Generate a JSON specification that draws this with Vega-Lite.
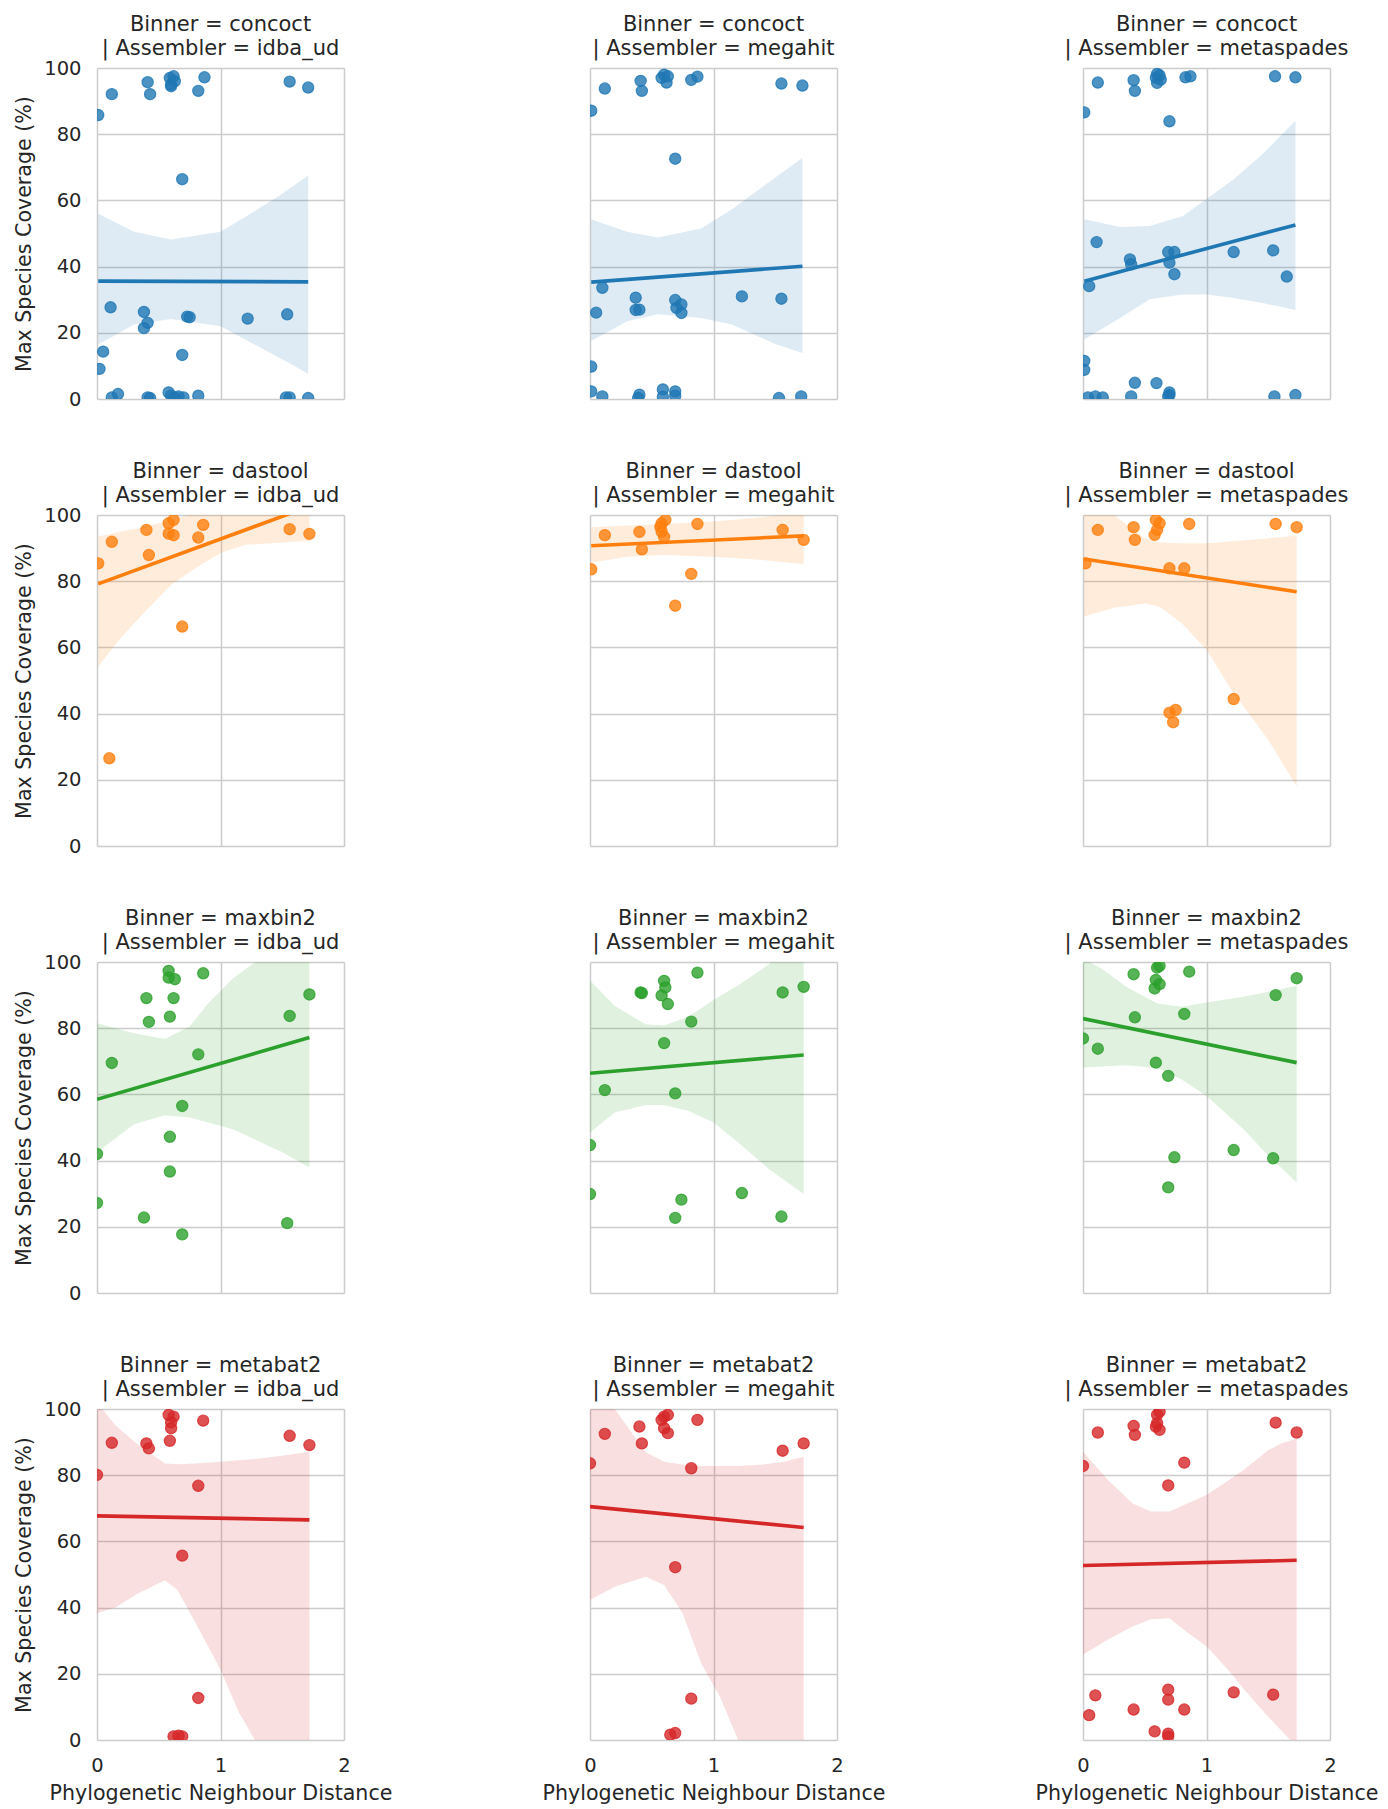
{
"$schema": "https://vega.github.io/schema/vega-lite/v6.json",
"padding": {"left": 14, "top": 14, "right": 5, "bottom": 0},
"data": {"values": [
{"p":"concoct|idba_ud","b":"concoct","k":"pt","x":0.01,"y":85.8},
{"p":"concoct|idba_ud","b":"concoct","k":"pt","x":0.12,"y":92.1},
{"p":"concoct|idba_ud","b":"concoct","k":"pt","x":0.41,"y":95.7},
{"p":"concoct|idba_ud","b":"concoct","k":"pt","x":0.43,"y":92.1},
{"p":"concoct|idba_ud","b":"concoct","k":"pt","x":0.59,"y":97},
{"p":"concoct|idba_ud","b":"concoct","k":"pt","x":0.6,"y":95},
{"p":"concoct|idba_ud","b":"concoct","k":"pt","x":0.62,"y":97.5},
{"p":"concoct|idba_ud","b":"concoct","k":"pt","x":0.63,"y":96},
{"p":"concoct|idba_ud","b":"concoct","k":"pt","x":0.6,"y":94.5},
{"p":"concoct|idba_ud","b":"concoct","k":"pt","x":0.82,"y":93.1},
{"p":"concoct|idba_ud","b":"concoct","k":"pt","x":0.87,"y":97.2},
{"p":"concoct|idba_ud","b":"concoct","k":"pt","x":1.56,"y":95.9},
{"p":"concoct|idba_ud","b":"concoct","k":"pt","x":1.71,"y":94.1},
{"p":"concoct|idba_ud","b":"concoct","k":"pt","x":0.69,"y":66.4},
{"p":"concoct|idba_ud","b":"concoct","k":"pt","x":0.11,"y":27.7},
{"p":"concoct|idba_ud","b":"concoct","k":"pt","x":0.38,"y":26.3},
{"p":"concoct|idba_ud","b":"concoct","k":"pt","x":0.41,"y":23},
{"p":"concoct|idba_ud","b":"concoct","k":"pt","x":0.38,"y":21.4},
{"p":"concoct|idba_ud","b":"concoct","k":"pt","x":0.73,"y":24.9},
{"p":"concoct|idba_ud","b":"concoct","k":"pt","x":0.75,"y":24.7},
{"p":"concoct|idba_ud","b":"concoct","k":"pt","x":1.22,"y":24.3},
{"p":"concoct|idba_ud","b":"concoct","k":"pt","x":1.54,"y":25.6},
{"p":"concoct|idba_ud","b":"concoct","k":"pt","x":0.05,"y":14.3},
{"p":"concoct|idba_ud","b":"concoct","k":"pt","x":0.02,"y":9.1},
{"p":"concoct|idba_ud","b":"concoct","k":"pt","x":0.69,"y":13.3},
{"p":"concoct|idba_ud","b":"concoct","k":"pt","x":0.12,"y":0.5},
{"p":"concoct|idba_ud","b":"concoct","k":"pt","x":0.17,"y":1.5},
{"p":"concoct|idba_ud","b":"concoct","k":"pt","x":0.41,"y":0.5},
{"p":"concoct|idba_ud","b":"concoct","k":"pt","x":0.43,"y":0.3},
{"p":"concoct|idba_ud","b":"concoct","k":"pt","x":0.58,"y":2},
{"p":"concoct|idba_ud","b":"concoct","k":"pt","x":0.6,"y":1},
{"p":"concoct|idba_ud","b":"concoct","k":"pt","x":0.63,"y":0.5},
{"p":"concoct|idba_ud","b":"concoct","k":"pt","x":0.66,"y":0.8},
{"p":"concoct|idba_ud","b":"concoct","k":"pt","x":0.7,"y":0.5},
{"p":"concoct|idba_ud","b":"concoct","k":"pt","x":0.82,"y":1},
{"p":"concoct|idba_ud","b":"concoct","k":"pt","x":1.53,"y":0.5},
{"p":"concoct|idba_ud","b":"concoct","k":"pt","x":1.56,"y":0.5},
{"p":"concoct|idba_ud","b":"concoct","k":"pt","x":1.71,"y":0.3},
{"p":"concoct|idba_ud","b":"concoct","k":"fit","x":0.01,"f":35.6},
{"p":"concoct|idba_ud","b":"concoct","k":"fit","x":1.71,"f":35.4},
{"p":"concoct|idba_ud","b":"concoct","k":"ci","x":0.01,"lo":16.5,"hi":56},
{"p":"concoct|idba_ud","b":"concoct","k":"ci","x":0.3,"lo":22.5,"hi":50.5},
{"p":"concoct|idba_ud","b":"concoct","k":"ci","x":0.6,"lo":24.2,"hi":48.2},
{"p":"concoct|idba_ud","b":"concoct","k":"ci","x":1.0,"lo":22,"hi":50.5},
{"p":"concoct|idba_ud","b":"concoct","k":"ci","x":1.2,"lo":18,"hi":55},
{"p":"concoct|idba_ud","b":"concoct","k":"ci","x":1.5,"lo":12,"hi":62},
{"p":"concoct|idba_ud","b":"concoct","k":"ci","x":1.71,"lo":7.6,"hi":67.5},

{"p":"concoct|megahit","b":"concoct","k":"pt","x":0.01,"y":87.1},
{"p":"concoct|megahit","b":"concoct","k":"pt","x":0.12,"y":93.8},
{"p":"concoct|megahit","b":"concoct","k":"pt","x":0.41,"y":96.1},
{"p":"concoct|megahit","b":"concoct","k":"pt","x":0.42,"y":93.1},
{"p":"concoct|megahit","b":"concoct","k":"pt","x":0.58,"y":97},
{"p":"concoct|megahit","b":"concoct","k":"pt","x":0.6,"y":98},
{"p":"concoct|megahit","b":"concoct","k":"pt","x":0.62,"y":95.6},
{"p":"concoct|megahit","b":"concoct","k":"pt","x":0.63,"y":97.5},
{"p":"concoct|megahit","b":"concoct","k":"pt","x":0.82,"y":96.4},
{"p":"concoct|megahit","b":"concoct","k":"pt","x":0.87,"y":97.4},
{"p":"concoct|megahit","b":"concoct","k":"pt","x":1.55,"y":95.3},
{"p":"concoct|megahit","b":"concoct","k":"pt","x":1.72,"y":94.7},
{"p":"concoct|megahit","b":"concoct","k":"pt","x":0.69,"y":72.6},
{"p":"concoct|megahit","b":"concoct","k":"pt","x":0.1,"y":33.6},
{"p":"concoct|megahit","b":"concoct","k":"pt","x":0.05,"y":26.1},
{"p":"concoct|megahit","b":"concoct","k":"pt","x":0.37,"y":30.6},
{"p":"concoct|megahit","b":"concoct","k":"pt","x":0.37,"y":26.9},
{"p":"concoct|megahit","b":"concoct","k":"pt","x":0.4,"y":27},
{"p":"concoct|megahit","b":"concoct","k":"pt","x":0.69,"y":29.9},
{"p":"concoct|megahit","b":"concoct","k":"pt","x":0.7,"y":27.5},
{"p":"concoct|megahit","b":"concoct","k":"pt","x":0.74,"y":28.6},
{"p":"concoct|megahit","b":"concoct","k":"pt","x":0.74,"y":26},
{"p":"concoct|megahit","b":"concoct","k":"pt","x":1.23,"y":31},
{"p":"concoct|megahit","b":"concoct","k":"pt","x":1.55,"y":30.3},
{"p":"concoct|megahit","b":"concoct","k":"pt","x":0.01,"y":9.8},
{"p":"concoct|megahit","b":"concoct","k":"pt","x":0.01,"y":2.3},
{"p":"concoct|megahit","b":"concoct","k":"pt","x":0.1,"y":0.8},
{"p":"concoct|megahit","b":"concoct","k":"pt","x":0.4,"y":1.3},
{"p":"concoct|megahit","b":"concoct","k":"pt","x":0.39,"y":0.3},
{"p":"concoct|megahit","b":"concoct","k":"pt","x":0.59,"y":2.9},
{"p":"concoct|megahit","b":"concoct","k":"pt","x":0.69,"y":2.3},
{"p":"concoct|megahit","b":"concoct","k":"pt","x":0.59,"y":0.7},
{"p":"concoct|megahit","b":"concoct","k":"pt","x":0.69,"y":1},
{"p":"concoct|megahit","b":"concoct","k":"pt","x":1.53,"y":0.3},
{"p":"concoct|megahit","b":"concoct","k":"pt","x":1.71,"y":0.8},
{"p":"concoct|megahit","b":"concoct","k":"fit","x":0.01,"f":35.3},
{"p":"concoct|megahit","b":"concoct","k":"fit","x":1.72,"f":40.1},
{"p":"concoct|megahit","b":"concoct","k":"ci","x":0.01,"lo":17.5,"hi":54.3},
{"p":"concoct|megahit","b":"concoct","k":"ci","x":0.3,"lo":23.5,"hi":50.5},
{"p":"concoct|megahit","b":"concoct","k":"ci","x":0.55,"lo":25.6,"hi":48.8},
{"p":"concoct|megahit","b":"concoct","k":"ci","x":0.9,"lo":24.5,"hi":51.5},
{"p":"concoct|megahit","b":"concoct","k":"ci","x":1.15,"lo":22.5,"hi":57.3},
{"p":"concoct|megahit","b":"concoct","k":"ci","x":1.5,"lo":16.6,"hi":66.9},
{"p":"concoct|megahit","b":"concoct","k":"ci","x":1.72,"lo":13.9,"hi":72.8},

{"p":"concoct|metaspades","b":"concoct","k":"pt","x":0.01,"y":86.6},
{"p":"concoct|metaspades","b":"concoct","k":"pt","x":0.12,"y":95.6},
{"p":"concoct|metaspades","b":"concoct","k":"pt","x":0.41,"y":96.3},
{"p":"concoct|metaspades","b":"concoct","k":"pt","x":0.42,"y":93.1},
{"p":"concoct|metaspades","b":"concoct","k":"pt","x":0.59,"y":97.1},
{"p":"concoct|metaspades","b":"concoct","k":"pt","x":0.6,"y":95.5},
{"p":"concoct|metaspades","b":"concoct","k":"pt","x":0.62,"y":97.8},
{"p":"concoct|metaspades","b":"concoct","k":"pt","x":0.63,"y":96.5},
{"p":"concoct|metaspades","b":"concoct","k":"pt","x":0.6,"y":98.2},
{"p":"concoct|metaspades","b":"concoct","k":"pt","x":0.83,"y":97.2},
{"p":"concoct|metaspades","b":"concoct","k":"pt","x":0.87,"y":97.5},
{"p":"concoct|metaspades","b":"concoct","k":"pt","x":1.555,"y":97.5},
{"p":"concoct|metaspades","b":"concoct","k":"pt","x":1.72,"y":97.2},
{"p":"concoct|metaspades","b":"concoct","k":"pt","x":0.7,"y":83.9},
{"p":"concoct|metaspades","b":"concoct","k":"pt","x":0.11,"y":47.4},
{"p":"concoct|metaspades","b":"concoct","k":"pt","x":0.38,"y":42.2},
{"p":"concoct|metaspades","b":"concoct","k":"pt","x":0.39,"y":40.7},
{"p":"concoct|metaspades","b":"concoct","k":"pt","x":0.05,"y":34.1},
{"p":"concoct|metaspades","b":"concoct","k":"pt","x":0.69,"y":44.4},
{"p":"concoct|metaspades","b":"concoct","k":"pt","x":0.74,"y":44.4},
{"p":"concoct|metaspades","b":"concoct","k":"pt","x":0.7,"y":41.2},
{"p":"concoct|metaspades","b":"concoct","k":"pt","x":0.74,"y":37.7},
{"p":"concoct|metaspades","b":"concoct","k":"pt","x":1.22,"y":44.4},
{"p":"concoct|metaspades","b":"concoct","k":"pt","x":1.54,"y":44.9},
{"p":"concoct|metaspades","b":"concoct","k":"pt","x":1.65,"y":37},
{"p":"concoct|metaspades","b":"concoct","k":"pt","x":0.01,"y":11.5},
{"p":"concoct|metaspades","b":"concoct","k":"pt","x":0.01,"y":8.8},
{"p":"concoct|metaspades","b":"concoct","k":"pt","x":0.04,"y":0.5},
{"p":"concoct|metaspades","b":"concoct","k":"pt","x":0.1,"y":0.8},
{"p":"concoct|metaspades","b":"concoct","k":"pt","x":0.16,"y":0.5},
{"p":"concoct|metaspades","b":"concoct","k":"pt","x":0.42,"y":4.9},
{"p":"concoct|metaspades","b":"concoct","k":"pt","x":0.39,"y":0.8},
{"p":"concoct|metaspades","b":"concoct","k":"pt","x":0.595,"y":4.8},
{"p":"concoct|metaspades","b":"concoct","k":"pt","x":0.7,"y":2},
{"p":"concoct|metaspades","b":"concoct","k":"pt","x":0.7,"y":1.2},
{"p":"concoct|metaspades","b":"concoct","k":"pt","x":0.69,"y":0.8},
{"p":"concoct|metaspades","b":"concoct","k":"pt","x":1.55,"y":0.8},
{"p":"concoct|metaspades","b":"concoct","k":"pt","x":1.72,"y":1.2},
{"p":"concoct|metaspades","b":"concoct","k":"fit","x":0.01,"f":35.6},
{"p":"concoct|metaspades","b":"concoct","k":"fit","x":1.72,"f":52.6},
{"p":"concoct|metaspades","b":"concoct","k":"ci","x":0.01,"lo":18,"hi":54.3},
{"p":"concoct|metaspades","b":"concoct","k":"ci","x":0.3,"lo":24.5,"hi":52},
{"p":"concoct|metaspades","b":"concoct","k":"ci","x":0.54,"lo":30.1,"hi":52.3},
{"p":"concoct|metaspades","b":"concoct","k":"ci","x":0.81,"lo":31.6,"hi":55.3},
{"p":"concoct|metaspades","b":"concoct","k":"ci","x":1.0,"lo":31.6,"hi":60.4},
{"p":"concoct|metaspades","b":"concoct","k":"ci","x":1.22,"lo":30.5,"hi":66.4},
{"p":"concoct|metaspades","b":"concoct","k":"ci","x":1.44,"lo":29.1,"hi":73.5},
{"p":"concoct|metaspades","b":"concoct","k":"ci","x":1.72,"lo":26.9,"hi":84.1},

{"p":"dastool|idba_ud","b":"dastool","k":"pt","x":0.01,"y":85.4},
{"p":"dastool|idba_ud","b":"dastool","k":"pt","x":0.12,"y":91.9},
{"p":"dastool|idba_ud","b":"dastool","k":"pt","x":0.4,"y":95.5},
{"p":"dastool|idba_ud","b":"dastool","k":"pt","x":0.42,"y":87.9},
{"p":"dastool|idba_ud","b":"dastool","k":"pt","x":0.58,"y":97.5},
{"p":"dastool|idba_ud","b":"dastool","k":"pt","x":0.62,"y":98.5},
{"p":"dastool|idba_ud","b":"dastool","k":"pt","x":0.58,"y":94.4},
{"p":"dastool|idba_ud","b":"dastool","k":"pt","x":0.62,"y":93.9},
{"p":"dastool|idba_ud","b":"dastool","k":"pt","x":0.86,"y":97},
{"p":"dastool|idba_ud","b":"dastool","k":"pt","x":0.82,"y":93.2},
{"p":"dastool|idba_ud","b":"dastool","k":"pt","x":1.56,"y":95.7},
{"p":"dastool|idba_ud","b":"dastool","k":"pt","x":1.72,"y":94.3},
{"p":"dastool|idba_ud","b":"dastool","k":"pt","x":0.69,"y":66.3},
{"p":"dastool|idba_ud","b":"dastool","k":"pt","x":0.1,"y":26.5},
{"p":"dastool|idba_ud","b":"dastool","k":"fit","x":0.01,"f":79.2},
{"p":"dastool|idba_ud","b":"dastool","k":"fit","x":1.72,"f":102.6},
{"p":"dastool|idba_ud","b":"dastool","k":"ci","x":0.01,"lo":54.2,"hi":93.5},
{"p":"dastool|idba_ud","b":"dastool","k":"ci","x":0.2,"lo":63.2,"hi":95},
{"p":"dastool|idba_ud","b":"dastool","k":"ci","x":0.4,"lo":71.2,"hi":96.5},
{"p":"dastool|idba_ud","b":"dastool","k":"ci","x":0.6,"lo":78.9,"hi":98.5},
{"p":"dastool|idba_ud","b":"dastool","k":"ci","x":0.8,"lo":84,"hi":100.5},
{"p":"dastool|idba_ud","b":"dastool","k":"ci","x":1.0,"lo":88.5,"hi":104},
{"p":"dastool|idba_ud","b":"dastool","k":"ci","x":1.2,"lo":91,"hi":108},
{"p":"dastool|idba_ud","b":"dastool","k":"ci","x":1.5,"lo":91.6,"hi":114},
{"p":"dastool|idba_ud","b":"dastool","k":"ci","x":1.72,"lo":92.3,"hi":118},

{"p":"dastool|megahit","b":"dastool","k":"pt","x":0.01,"y":83.6},
{"p":"dastool|megahit","b":"dastool","k":"pt","x":0.12,"y":93.9},
{"p":"dastool|megahit","b":"dastool","k":"pt","x":0.4,"y":94.9},
{"p":"dastool|megahit","b":"dastool","k":"pt","x":0.42,"y":89.6},
{"p":"dastool|megahit","b":"dastool","k":"pt","x":0.58,"y":97.5},
{"p":"dastool|megahit","b":"dastool","k":"pt","x":0.61,"y":98.5},
{"p":"dastool|megahit","b":"dastool","k":"pt","x":0.58,"y":95},
{"p":"dastool|megahit","b":"dastool","k":"pt","x":0.6,"y":93.4},
{"p":"dastool|megahit","b":"dastool","k":"pt","x":0.57,"y":96.4},
{"p":"dastool|megahit","b":"dastool","k":"pt","x":0.87,"y":97.3},
{"p":"dastool|megahit","b":"dastool","k":"pt","x":0.82,"y":82.2},
{"p":"dastool|megahit","b":"dastool","k":"pt","x":0.69,"y":72.6},
{"p":"dastool|megahit","b":"dastool","k":"pt","x":1.56,"y":95.5},
{"p":"dastool|megahit","b":"dastool","k":"pt","x":1.73,"y":92.5},
{"p":"dastool|megahit","b":"dastool","k":"fit","x":0.01,"f":90.7},
{"p":"dastool|megahit","b":"dastool","k":"fit","x":1.73,"f":93.7},
{"p":"dastool|megahit","b":"dastool","k":"ci","x":0.01,"lo":85.6,"hi":96.3},
{"p":"dastool|megahit","b":"dastool","k":"ci","x":0.3,"lo":87.4,"hi":96.8},
{"p":"dastool|megahit","b":"dastool","k":"ci","x":0.6,"lo":87.9,"hi":97.3},
{"p":"dastool|megahit","b":"dastool","k":"ci","x":1.0,"lo":87.4,"hi":98},
{"p":"dastool|megahit","b":"dastool","k":"ci","x":1.4,"lo":86.4,"hi":99.3},
{"p":"dastool|megahit","b":"dastool","k":"ci","x":1.73,"lo":85.1,"hi":101},

{"p":"dastool|metaspades","b":"dastool","k":"pt","x":0.02,"y":85.4},
{"p":"dastool|metaspades","b":"dastool","k":"pt","x":0.12,"y":95.5},
{"p":"dastool|metaspades","b":"dastool","k":"pt","x":0.41,"y":96.3},
{"p":"dastool|metaspades","b":"dastool","k":"pt","x":0.42,"y":92.5},
{"p":"dastool|metaspades","b":"dastool","k":"pt","x":0.59,"y":98.5},
{"p":"dastool|metaspades","b":"dastool","k":"pt","x":0.62,"y":97.5},
{"p":"dastool|metaspades","b":"dastool","k":"pt","x":0.58,"y":94},
{"p":"dastool|metaspades","b":"dastool","k":"pt","x":0.6,"y":95.5},
{"p":"dastool|metaspades","b":"dastool","k":"pt","x":0.86,"y":97.3},
{"p":"dastool|metaspades","b":"dastool","k":"pt","x":0.7,"y":83.9},
{"p":"dastool|metaspades","b":"dastool","k":"pt","x":0.82,"y":83.9},
{"p":"dastool|metaspades","b":"dastool","k":"pt","x":1.56,"y":97.3},
{"p":"dastool|metaspades","b":"dastool","k":"pt","x":1.73,"y":96.3},
{"p":"dastool|metaspades","b":"dastool","k":"pt","x":0.7,"y":40.3},
{"p":"dastool|metaspades","b":"dastool","k":"pt","x":0.75,"y":41.1},
{"p":"dastool|metaspades","b":"dastool","k":"pt","x":0.73,"y":37.4},
{"p":"dastool|metaspades","b":"dastool","k":"pt","x":1.22,"y":44.4},
{"p":"dastool|metaspades","b":"dastool","k":"fit","x":0.01,"f":86.7},
{"p":"dastool|metaspades","b":"dastool","k":"fit","x":1.73,"f":76.8},
{"p":"dastool|metaspades","b":"dastool","k":"ci","x":0.01,"lo":69.3,"hi":102},
{"p":"dastool|metaspades","b":"dastool","k":"ci","x":0.25,"lo":72,"hi":100},
{"p":"dastool|metaspades","b":"dastool","k":"ci","x":0.5,"lo":73.3,"hi":93},
{"p":"dastool|metaspades","b":"dastool","k":"ci","x":0.62,"lo":72.3,"hi":91.7},
{"p":"dastool|metaspades","b":"dastool","k":"ci","x":0.8,"lo":67.3,"hi":91.5},
{"p":"dastool|metaspades","b":"dastool","k":"ci","x":1.0,"lo":59.3,"hi":91.5},
{"p":"dastool|metaspades","b":"dastool","k":"ci","x":1.2,"lo":47.2,"hi":92},
{"p":"dastool|metaspades","b":"dastool","k":"ci","x":1.5,"lo":32.1,"hi":93},
{"p":"dastool|metaspades","b":"dastool","k":"ci","x":1.73,"lo":18,"hi":93.7},

{"p":"maxbin2|idba_ud","b":"maxbin2","k":"pt","x":0.58,"y":97.3},
{"p":"maxbin2|idba_ud","b":"maxbin2","k":"pt","x":0.58,"y":95.3},
{"p":"maxbin2|idba_ud","b":"maxbin2","k":"pt","x":0.63,"y":94.8},
{"p":"maxbin2|idba_ud","b":"maxbin2","k":"pt","x":0.86,"y":96.6},
{"p":"maxbin2|idba_ud","b":"maxbin2","k":"pt","x":0.4,"y":89.1},
{"p":"maxbin2|idba_ud","b":"maxbin2","k":"pt","x":0.62,"y":89.1},
{"p":"maxbin2|idba_ud","b":"maxbin2","k":"pt","x":0.42,"y":81.9},
{"p":"maxbin2|idba_ud","b":"maxbin2","k":"pt","x":0.59,"y":83.5},
{"p":"maxbin2|idba_ud","b":"maxbin2","k":"pt","x":1.72,"y":90.2},
{"p":"maxbin2|idba_ud","b":"maxbin2","k":"pt","x":1.56,"y":83.7},
{"p":"maxbin2|idba_ud","b":"maxbin2","k":"pt","x":0.12,"y":69.5},
{"p":"maxbin2|idba_ud","b":"maxbin2","k":"pt","x":0.82,"y":72.1},
{"p":"maxbin2|idba_ud","b":"maxbin2","k":"pt","x":0.69,"y":56.5},
{"p":"maxbin2|idba_ud","b":"maxbin2","k":"pt","x":0.59,"y":47.2},
{"p":"maxbin2|idba_ud","b":"maxbin2","k":"pt","x":0.0,"y":42},
{"p":"maxbin2|idba_ud","b":"maxbin2","k":"pt","x":0.59,"y":36.7},
{"p":"maxbin2|idba_ud","b":"maxbin2","k":"pt","x":0.0,"y":27.2},
{"p":"maxbin2|idba_ud","b":"maxbin2","k":"pt","x":0.38,"y":22.8},
{"p":"maxbin2|idba_ud","b":"maxbin2","k":"pt","x":1.54,"y":21.1},
{"p":"maxbin2|idba_ud","b":"maxbin2","k":"pt","x":0.69,"y":17.7},
{"p":"maxbin2|idba_ud","b":"maxbin2","k":"fit","x":0.0,"f":58.5},
{"p":"maxbin2|idba_ud","b":"maxbin2","k":"fit","x":1.72,"f":77.2},
{"p":"maxbin2|idba_ud","b":"maxbin2","k":"ci","x":0.0,"lo":42.5,"hi":81.5},
{"p":"maxbin2|idba_ud","b":"maxbin2","k":"ci","x":0.3,"lo":51,"hi":78.5},
{"p":"maxbin2|idba_ud","b":"maxbin2","k":"ci","x":0.55,"lo":53.7,"hi":76.7},
{"p":"maxbin2|idba_ud","b":"maxbin2","k":"ci","x":0.75,"lo":53,"hi":80.5},
{"p":"maxbin2|idba_ud","b":"maxbin2","k":"ci","x":0.9,"lo":51.5,"hi":87.5},
{"p":"maxbin2|idba_ud","b":"maxbin2","k":"ci","x":1.1,"lo":49.5,"hi":95},
{"p":"maxbin2|idba_ud","b":"maxbin2","k":"ci","x":1.3,"lo":46,"hi":100.5},
{"p":"maxbin2|idba_ud","b":"maxbin2","k":"ci","x":1.5,"lo":42.5,"hi":107},
{"p":"maxbin2|idba_ud","b":"maxbin2","k":"ci","x":1.72,"lo":37.9,"hi":115},

{"p":"maxbin2|megahit","b":"maxbin2","k":"pt","x":0.87,"y":96.8},
{"p":"maxbin2|megahit","b":"maxbin2","k":"pt","x":0.6,"y":94.3},
{"p":"maxbin2|megahit","b":"maxbin2","k":"pt","x":0.61,"y":92.3},
{"p":"maxbin2|megahit","b":"maxbin2","k":"pt","x":0.41,"y":90.8},
{"p":"maxbin2|megahit","b":"maxbin2","k":"pt","x":0.42,"y":90.6},
{"p":"maxbin2|megahit","b":"maxbin2","k":"pt","x":0.58,"y":89.9},
{"p":"maxbin2|megahit","b":"maxbin2","k":"pt","x":0.63,"y":87.3},
{"p":"maxbin2|megahit","b":"maxbin2","k":"pt","x":0.82,"y":82},
{"p":"maxbin2|megahit","b":"maxbin2","k":"pt","x":1.56,"y":90.8},
{"p":"maxbin2|megahit","b":"maxbin2","k":"pt","x":1.73,"y":92.5},
{"p":"maxbin2|megahit","b":"maxbin2","k":"pt","x":0.6,"y":75.5},
{"p":"maxbin2|megahit","b":"maxbin2","k":"pt","x":0.12,"y":61.3},
{"p":"maxbin2|megahit","b":"maxbin2","k":"pt","x":0.69,"y":60.3},
{"p":"maxbin2|megahit","b":"maxbin2","k":"pt","x":0.0,"y":44.7},
{"p":"maxbin2|megahit","b":"maxbin2","k":"pt","x":0.0,"y":29.9},
{"p":"maxbin2|megahit","b":"maxbin2","k":"pt","x":1.23,"y":30.2},
{"p":"maxbin2|megahit","b":"maxbin2","k":"pt","x":0.74,"y":28.2},
{"p":"maxbin2|megahit","b":"maxbin2","k":"pt","x":0.69,"y":22.7},
{"p":"maxbin2|megahit","b":"maxbin2","k":"pt","x":1.55,"y":23.1},
{"p":"maxbin2|megahit","b":"maxbin2","k":"fit","x":0.0,"f":66.4},
{"p":"maxbin2|megahit","b":"maxbin2","k":"fit","x":1.73,"f":71.9},
{"p":"maxbin2|megahit","b":"maxbin2","k":"ci","x":0.0,"lo":48.5,"hi":94.3},
{"p":"maxbin2|megahit","b":"maxbin2","k":"ci","x":0.2,"lo":54.5,"hi":86.8},
{"p":"maxbin2|megahit","b":"maxbin2","k":"ci","x":0.45,"lo":56.8,"hi":81.2},
{"p":"maxbin2|megahit","b":"maxbin2","k":"ci","x":0.6,"lo":56.8,"hi":80.8},
{"p":"maxbin2|megahit","b":"maxbin2","k":"ci","x":0.8,"lo":55,"hi":83.5},
{"p":"maxbin2|megahit","b":"maxbin2","k":"ci","x":1.0,"lo":51.5,"hi":88.5},
{"p":"maxbin2|megahit","b":"maxbin2","k":"ci","x":1.2,"lo":45.5,"hi":93},
{"p":"maxbin2|megahit","b":"maxbin2","k":"ci","x":1.45,"lo":37.4,"hi":99.3},
{"p":"maxbin2|megahit","b":"maxbin2","k":"ci","x":1.73,"lo":29.9,"hi":110},

{"p":"maxbin2|metaspades","b":"maxbin2","k":"pt","x":0.6,"y":98.3},
{"p":"maxbin2|metaspades","b":"maxbin2","k":"pt","x":0.62,"y":98.8},
{"p":"maxbin2|metaspades","b":"maxbin2","k":"pt","x":0.41,"y":96.3},
{"p":"maxbin2|metaspades","b":"maxbin2","k":"pt","x":0.59,"y":94.6},
{"p":"maxbin2|metaspades","b":"maxbin2","k":"pt","x":0.62,"y":93.3},
{"p":"maxbin2|metaspades","b":"maxbin2","k":"pt","x":0.58,"y":92},
{"p":"maxbin2|metaspades","b":"maxbin2","k":"pt","x":0.86,"y":97.1},
{"p":"maxbin2|metaspades","b":"maxbin2","k":"pt","x":1.73,"y":95.1},
{"p":"maxbin2|metaspades","b":"maxbin2","k":"pt","x":1.56,"y":90},
{"p":"maxbin2|metaspades","b":"maxbin2","k":"pt","x":0.42,"y":83.3},
{"p":"maxbin2|metaspades","b":"maxbin2","k":"pt","x":0.82,"y":84.3},
{"p":"maxbin2|metaspades","b":"maxbin2","k":"pt","x":0.0,"y":76.9},
{"p":"maxbin2|metaspades","b":"maxbin2","k":"pt","x":0.12,"y":73.8},
{"p":"maxbin2|metaspades","b":"maxbin2","k":"pt","x":0.59,"y":69.6},
{"p":"maxbin2|metaspades","b":"maxbin2","k":"pt","x":0.69,"y":65.6},
{"p":"maxbin2|metaspades","b":"maxbin2","k":"pt","x":0.74,"y":41},
{"p":"maxbin2|metaspades","b":"maxbin2","k":"pt","x":1.22,"y":43.2},
{"p":"maxbin2|metaspades","b":"maxbin2","k":"pt","x":1.54,"y":40.7},
{"p":"maxbin2|metaspades","b":"maxbin2","k":"pt","x":0.69,"y":31.9},
{"p":"maxbin2|metaspades","b":"maxbin2","k":"fit","x":0.0,"f":82.9},
{"p":"maxbin2|metaspades","b":"maxbin2","k":"fit","x":1.73,"f":69.6},
{"p":"maxbin2|metaspades","b":"maxbin2","k":"ci","x":0.0,"lo":68.1,"hi":101},
{"p":"maxbin2|metaspades","b":"maxbin2","k":"ci","x":0.15,"lo":68.4,"hi":98},
{"p":"maxbin2|metaspades","b":"maxbin2","k":"ci","x":0.35,"lo":68.8,"hi":92.5},
{"p":"maxbin2|metaspades","b":"maxbin2","k":"ci","x":0.6,"lo":68,"hi":87.5},
{"p":"maxbin2|metaspades","b":"maxbin2","k":"ci","x":0.8,"lo":64.5,"hi":86.5},
{"p":"maxbin2|metaspades","b":"maxbin2","k":"ci","x":1.0,"lo":59.5,"hi":87.8},
{"p":"maxbin2|metaspades","b":"maxbin2","k":"ci","x":1.3,"lo":49.5,"hi":89.5},
{"p":"maxbin2|metaspades","b":"maxbin2","k":"ci","x":1.5,"lo":41.5,"hi":91},
{"p":"maxbin2|metaspades","b":"maxbin2","k":"ci","x":1.73,"lo":33.4,"hi":92.8},

{"p":"metabat2|idba_ud","b":"metabat2","k":"pt","x":0.58,"y":98.2},
{"p":"metabat2|idba_ud","b":"metabat2","k":"pt","x":0.62,"y":97.7},
{"p":"metabat2|idba_ud","b":"metabat2","k":"pt","x":0.6,"y":94.2},
{"p":"metabat2|idba_ud","b":"metabat2","k":"pt","x":0.6,"y":96},
{"p":"metabat2|idba_ud","b":"metabat2","k":"pt","x":0.86,"y":96.5},
{"p":"metabat2|idba_ud","b":"metabat2","k":"pt","x":0.59,"y":90.4},
{"p":"metabat2|idba_ud","b":"metabat2","k":"pt","x":0.4,"y":89.6},
{"p":"metabat2|idba_ud","b":"metabat2","k":"pt","x":0.42,"y":88.1},
{"p":"metabat2|idba_ud","b":"metabat2","k":"pt","x":0.12,"y":89.8},
{"p":"metabat2|idba_ud","b":"metabat2","k":"pt","x":1.56,"y":91.9},
{"p":"metabat2|idba_ud","b":"metabat2","k":"pt","x":1.72,"y":89.1},
{"p":"metabat2|idba_ud","b":"metabat2","k":"pt","x":0.0,"y":80.1},
{"p":"metabat2|idba_ud","b":"metabat2","k":"pt","x":0.82,"y":76.8},
{"p":"metabat2|idba_ud","b":"metabat2","k":"pt","x":0.69,"y":55.7},
{"p":"metabat2|idba_ud","b":"metabat2","k":"pt","x":0.82,"y":12.7},
{"p":"metabat2|idba_ud","b":"metabat2","k":"pt","x":0.62,"y":1.1},
{"p":"metabat2|idba_ud","b":"metabat2","k":"pt","x":0.69,"y":1.1},
{"p":"metabat2|idba_ud","b":"metabat2","k":"pt","x":0.66,"y":1.3},
{"p":"metabat2|idba_ud","b":"metabat2","k":"fit","x":0.0,"f":67.7},
{"p":"metabat2|idba_ud","b":"metabat2","k":"fit","x":1.72,"f":66.5},
{"p":"metabat2|idba_ud","b":"metabat2","k":"ci","x":0.0,"lo":38.3,"hi":102},
{"p":"metabat2|idba_ud","b":"metabat2","k":"ci","x":0.15,"lo":40,"hi":95},
{"p":"metabat2|idba_ud","b":"metabat2","k":"ci","x":0.32,"lo":44,"hi":89.6},
{"p":"metabat2|idba_ud","b":"metabat2","k":"ci","x":0.55,"lo":48.3,"hi":83.5},
{"p":"metabat2|idba_ud","b":"metabat2","k":"ci","x":0.65,"lo":45.4,"hi":83.3},
{"p":"metabat2|idba_ud","b":"metabat2","k":"ci","x":0.8,"lo":35.3,"hi":83.5},
{"p":"metabat2|idba_ud","b":"metabat2","k":"ci","x":1.0,"lo":21.2,"hi":84.1},
{"p":"metabat2|idba_ud","b":"metabat2","k":"ci","x":1.15,"lo":8.2,"hi":84.5},
{"p":"metabat2|idba_ud","b":"metabat2","k":"ci","x":1.28,"lo":0,"hi":84.9},
{"p":"metabat2|idba_ud","b":"metabat2","k":"ci","x":1.5,"lo":-15,"hi":85.9},
{"p":"metabat2|idba_ud","b":"metabat2","k":"ci","x":1.72,"lo":-30,"hi":87.1},

{"p":"metabat2|megahit","b":"metabat2","k":"pt","x":0.6,"y":97.7},
{"p":"metabat2|megahit","b":"metabat2","k":"pt","x":0.63,"y":98.2},
{"p":"metabat2|megahit","b":"metabat2","k":"pt","x":0.58,"y":96.7},
{"p":"metabat2|megahit","b":"metabat2","k":"pt","x":0.6,"y":94.2},
{"p":"metabat2|megahit","b":"metabat2","k":"pt","x":0.63,"y":92.7},
{"p":"metabat2|megahit","b":"metabat2","k":"pt","x":0.87,"y":96.7},
{"p":"metabat2|megahit","b":"metabat2","k":"pt","x":0.4,"y":94.7},
{"p":"metabat2|megahit","b":"metabat2","k":"pt","x":0.42,"y":89.6},
{"p":"metabat2|megahit","b":"metabat2","k":"pt","x":0.12,"y":92.5},
{"p":"metabat2|megahit","b":"metabat2","k":"pt","x":0.0,"y":83.6},
{"p":"metabat2|megahit","b":"metabat2","k":"pt","x":0.82,"y":82.1},
{"p":"metabat2|megahit","b":"metabat2","k":"pt","x":1.56,"y":87.4},
{"p":"metabat2|megahit","b":"metabat2","k":"pt","x":1.73,"y":89.6},
{"p":"metabat2|megahit","b":"metabat2","k":"pt","x":0.69,"y":52.2},
{"p":"metabat2|megahit","b":"metabat2","k":"pt","x":0.82,"y":12.5},
{"p":"metabat2|megahit","b":"metabat2","k":"pt","x":0.65,"y":1.6},
{"p":"metabat2|megahit","b":"metabat2","k":"pt","x":0.69,"y":2.1},
{"p":"metabat2|megahit","b":"metabat2","k":"fit","x":0.0,"f":70.5},
{"p":"metabat2|megahit","b":"metabat2","k":"fit","x":1.73,"f":64.2},
{"p":"metabat2|megahit","b":"metabat2","k":"ci","x":0.0,"lo":42.3,"hi":106},
{"p":"metabat2|megahit","b":"metabat2","k":"ci","x":0.2,"lo":46.3,"hi":100},
{"p":"metabat2|megahit","b":"metabat2","k":"ci","x":0.45,"lo":49.3,"hi":87},
{"p":"metabat2|megahit","b":"metabat2","k":"ci","x":0.6,"lo":46.8,"hi":84.1},
{"p":"metabat2|megahit","b":"metabat2","k":"ci","x":0.75,"lo":38.3,"hi":83.2},
{"p":"metabat2|megahit","b":"metabat2","k":"ci","x":0.9,"lo":23.2,"hi":82.8},
{"p":"metabat2|megahit","b":"metabat2","k":"ci","x":1.05,"lo":13.2,"hi":82.8},
{"p":"metabat2|megahit","b":"metabat2","k":"ci","x":1.2,"lo":0,"hi":82.8},
{"p":"metabat2|megahit","b":"metabat2","k":"ci","x":1.4,"lo":-20,"hi":83.2},
{"p":"metabat2|megahit","b":"metabat2","k":"ci","x":1.57,"lo":-35,"hi":84.1},
{"p":"metabat2|megahit","b":"metabat2","k":"ci","x":1.73,"lo":-50,"hi":85.6},

{"p":"metabat2|metaspades","b":"metabat2","k":"pt","x":0.6,"y":98.2},
{"p":"metabat2|metaspades","b":"metabat2","k":"pt","x":0.62,"y":99.2},
{"p":"metabat2|metaspades","b":"metabat2","k":"pt","x":0.59,"y":94.7},
{"p":"metabat2|metaspades","b":"metabat2","k":"pt","x":0.6,"y":95.7},
{"p":"metabat2|metaspades","b":"metabat2","k":"pt","x":0.62,"y":93.7},
{"p":"metabat2|metaspades","b":"metabat2","k":"pt","x":0.41,"y":94.9},
{"p":"metabat2|metaspades","b":"metabat2","k":"pt","x":0.42,"y":92.2},
{"p":"metabat2|metaspades","b":"metabat2","k":"pt","x":0.12,"y":92.9},
{"p":"metabat2|metaspades","b":"metabat2","k":"pt","x":1.56,"y":95.9},
{"p":"metabat2|metaspades","b":"metabat2","k":"pt","x":1.73,"y":92.9},
{"p":"metabat2|metaspades","b":"metabat2","k":"pt","x":0.0,"y":82.8},
{"p":"metabat2|metaspades","b":"metabat2","k":"pt","x":0.82,"y":83.8},
{"p":"metabat2|metaspades","b":"metabat2","k":"pt","x":0.69,"y":76.9},
{"p":"metabat2|metaspades","b":"metabat2","k":"pt","x":0.1,"y":13.5},
{"p":"metabat2|metaspades","b":"metabat2","k":"pt","x":0.41,"y":9.2},
{"p":"metabat2|metaspades","b":"metabat2","k":"pt","x":0.05,"y":7.5},
{"p":"metabat2|metaspades","b":"metabat2","k":"pt","x":0.69,"y":15.2},
{"p":"metabat2|metaspades","b":"metabat2","k":"pt","x":0.69,"y":12.2},
{"p":"metabat2|metaspades","b":"metabat2","k":"pt","x":0.82,"y":9.2},
{"p":"metabat2|metaspades","b":"metabat2","k":"pt","x":1.22,"y":14.4},
{"p":"metabat2|metaspades","b":"metabat2","k":"pt","x":1.54,"y":13.7},
{"p":"metabat2|metaspades","b":"metabat2","k":"pt","x":0.58,"y":2.6},
{"p":"metabat2|metaspades","b":"metabat2","k":"pt","x":0.69,"y":1.9},
{"p":"metabat2|metaspades","b":"metabat2","k":"pt","x":0.69,"y":1.1},
{"p":"metabat2|metaspades","b":"metabat2","k":"fit","x":0.0,"f":52.7},
{"p":"metabat2|metaspades","b":"metabat2","k":"fit","x":1.73,"f":54.3},
{"p":"metabat2|metaspades","b":"metabat2","k":"ci","x":0.0,"lo":25.8,"hi":87.1},
{"p":"metabat2|metaspades","b":"metabat2","k":"ci","x":0.2,"lo":30.3,"hi":78.6},
{"p":"metabat2|metaspades","b":"metabat2","k":"ci","x":0.4,"lo":34.3,"hi":71.5},
{"p":"metabat2|metaspades","b":"metabat2","k":"ci","x":0.55,"lo":36.5,"hi":69},
{"p":"metabat2|metaspades","b":"metabat2","k":"ci","x":0.7,"lo":36.8,"hi":69},
{"p":"metabat2|metaspades","b":"metabat2","k":"ci","x":0.85,"lo":32.3,"hi":71.5},
{"p":"metabat2|metaspades","b":"metabat2","k":"ci","x":1.0,"lo":28.3,"hi":74},
{"p":"metabat2|metaspades","b":"metabat2","k":"ci","x":1.2,"lo":20.2,"hi":79},
{"p":"metabat2|metaspades","b":"metabat2","k":"ci","x":1.3,"lo":15.5,"hi":81.6},
{"p":"metabat2|metaspades","b":"metabat2","k":"ci","x":1.4,"lo":11.2,"hi":84.5},
{"p":"metabat2|metaspades","b":"metabat2","k":"ci","x":1.5,"lo":7,"hi":87.6},
{"p":"metabat2|metaspades","b":"metabat2","k":"ci","x":1.6,"lo":3.1,"hi":89.5},
{"p":"metabat2|metaspades","b":"metabat2","k":"ci","x":1.73,"lo":-2,"hi":91.1}
]},
"facet": {
  "field": "p", "type": "nominal", "title": null,
  "sort": ["concoct|idba_ud","concoct|megahit","concoct|metaspades","dastool|idba_ud","dastool|megahit","dastool|metaspades","maxbin2|idba_ud","maxbin2|megahit","maxbin2|metaspades","metabat2|idba_ud","metabat2|megahit","metabat2|metaspades"],
  "header": {
    "labelExpr": "['Binner = ' + split(datum.value, '|')[0], '| Assembler = ' + split(datum.value, '|')[1]]",
    "labelFontSize": 21, "labelColor": "#262626", "labelFont": "DejaVu Sans",
    "labelLineHeight": 23.5, "labelPadding": 9.5
  }
},
"columns": 3,
"spacing": {"column": 208, "row": 62},
"spec": {
  "width": 247, "height": 331,
  "encoding": {
    "x": {"field": "x", "type": "quantitative",
      "scale": {"domain": [0, 2], "nice": false, "zero": false},
      "axis": {"values": [0, 1, 2], "labelExpr": "format(datum.value, 'd')", "labelFlush": false, "labelOverlap": false, "title": "Phylogenetic Neighbour Distance"}},
    "color": {"field": "b", "type": "nominal", "legend": null,
      "scale": {"domain": ["concoct","dastool","maxbin2","metabat2"], "range": ["#1f77b4","#ff7f0e","#2ca02c","#d62728"]}}
  },
  "layer": [
    {"transform": [{"filter": "datum.k == 'pt'"}],
     "mark": {"type": "point", "shape": "circle", "filled": true, "size": 125, "fillOpacity": 0.8, "strokeOpacity": 0.8, "strokeWidth": 1.2, "clip": true},
     "encoding": {
        "y": {"field": "y", "type": "quantitative",
          "scale": {"domain": [0, 100], "nice": false},
          "axis": {"values": [0, 20, 40, 60, 80, 100], "title": "Max Species Coverage (%)"}},
        "stroke": {"field": "b", "type": "nominal", "legend": null,
          "scale": {"domain": ["concoct","dastool","maxbin2","metabat2"], "range": ["#1f77b4","#ff7f0e","#2ca02c","#d62728"]}}}},
    {"transform": [{"filter": "datum.k == 'ci'"}],
     "mark": {"type": "area", "opacity": 0.15, "clip": true},
     "encoding": {"y": {"field": "lo", "type": "quantitative",
        "axis": {"values": [0, 20, 40, 60, 80, 100], "title": "Max Species Coverage (%)"}},
       "y2": {"field": "hi"}}},
    {"transform": [{"filter": "datum.k == 'fit'"}],
     "mark": {"type": "line", "strokeWidth": 3.6, "clip": true},
     "encoding": {"y": {"field": "f", "type": "quantitative",
        "axis": {"values": [0, 20, 40, 60, 80, 100], "title": "Max Species Coverage (%)"}}}}
  ]
},
"config": {
  "font": "DejaVu Sans",
  "view": {"stroke": null},
  "axis": {
    "grid": true, "gridColor": "#cccccc", "gridWidth": 1.5,
    "domain": false, "ticks": false,
    "labelFontSize": 19.5, "labelColor": "#262626", "labelFont": "DejaVu Sans",
    "titleFontSize": 20.6, "titleColor": "#262626", "titleFont": "DejaVu Sans", "titleFontWeight": "normal",
    "labelPadding": 16, "titlePadding": 9
  },
  "axisY": {"labelPadding": 16, "titlePadding": 9}
}
}
